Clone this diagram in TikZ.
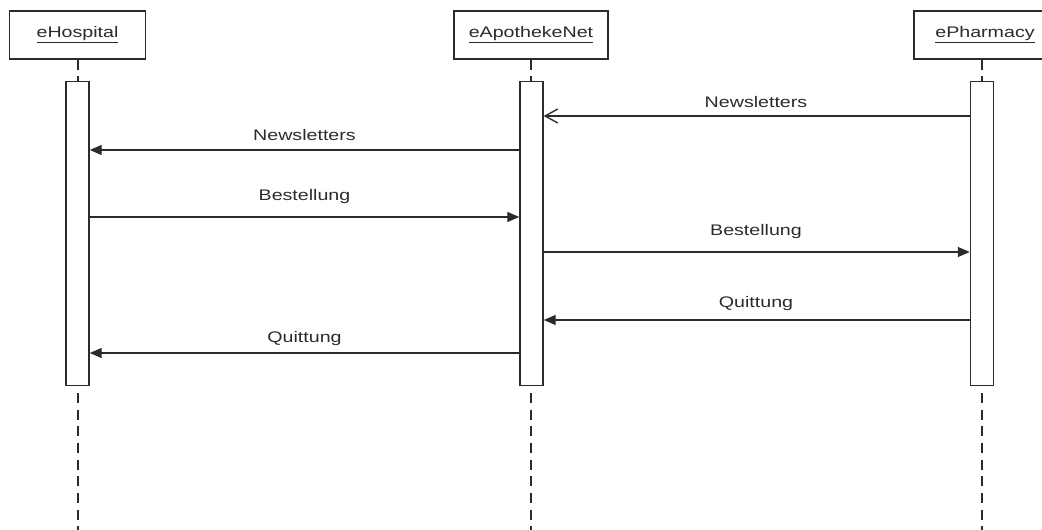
\documentclass[tikz,border=0pt]{standalone}
\usepackage{fontspec}
\setmainfont{Liberation Sans}
\usetikzlibrary{arrows.meta}
\definecolor{ink}{HTML}{2B2B2B}
\newcommand{\wide}[1]{\scalebox{1.28}[1]{#1}}

\begin{document}
\begin{tikzpicture}[x=0.75pt,y=0.75pt,yscale=-1,xscale=1,
    obj/.style={draw=ink, line width=1.1pt, fill=white, minimum height=36pt, inner sep=0pt, text=ink, font=\fontsize{11.5}{13}\selectfont},
    bar/.style={draw=ink, line width=1.1pt, fill=white, anchor=north, minimum width=17.25pt, minimum height=228pt, inner sep=0pt},
    life/.style={draw=ink, line width=1.5pt, dash pattern=on 7.5pt off 5pt},
    msg/.style={draw=ink, line width=1pt, -{Triangle[length=9pt,width=7.5pt]}},
    ret/.style={draw=ink, line width=1pt, -{Straight Barb[length=9.5pt,width=10.5pt]}},
    lbl/.style={anchor=base, inner sep=0pt, text=ink, font=\fontsize{11.5}{13}\selectfont}]
    \useasboundingbox (0,0) rectangle (1042,530);

    % Objects
    \node[obj, minimum width=102pt] (hosp) at (77.5,35) {\wide{\underline{eHospital}}};
    \node[obj, minimum width=115.5pt] (apo) at (531,35) {\wide{\underline{eApothekeNet}}};
    \node[obj, minimum width=106.5pt] (pharm) at (985,35) {\wide{\underline{ePharmacy}}};

    % Lifeline ends
    \coordinate (endH) at (77.5,530);
    \coordinate (endA) at (531,530);
    \coordinate (endP) at (982,530);

    % Lifelines
    \draw[life] (hosp.south) -- (endH);
    \draw[life] (apo.south) -- (endA);
    \draw[life] (pharm.south -| endP) -- (endP);

    % Activation bars
    \node[bar] (barH) at (77.5,81) {};
    \node[bar] (barA) at (531.5,81) {};
    \node[bar] (barP) at (982,81) {};

    % Messages
    \draw[ret] (barP.west |- 0,116) -- (barA.east |- 0,116);
    \draw[msg] (barA.west |- 0,150) -- (barH.east |- 0,150);
    \draw[msg] (barH.east |- 0,217) -- (barA.west |- 0,217);
    \draw[msg] (barA.east |- 0,252) -- (barP.west |- 0,252);
    \draw[msg] (barP.west |- 0,320) -- (barA.east |- 0,320);
    \draw[msg] (barA.west |- 0,353) -- (barH.east |- 0,353);

    % Text Node
    \node[lbl] (n1) at (756,107.5) {\wide{Newsletters}};
    \node[lbl] (n2) at (304.5,141) {\wide{Newsletters}};
    \node[lbl] (b1) at (304.5,201) {\wide{Bestellung}};
    \node[lbl] (b2) at (756,235.5) {\wide{Bestellung}};
    \node[lbl] (q1) at (756,308) {\wide{Quittung}};
    \node[lbl] (q2) at (304.5,343) {\wide{Quittung}};
\end{tikzpicture}
\end{document}
